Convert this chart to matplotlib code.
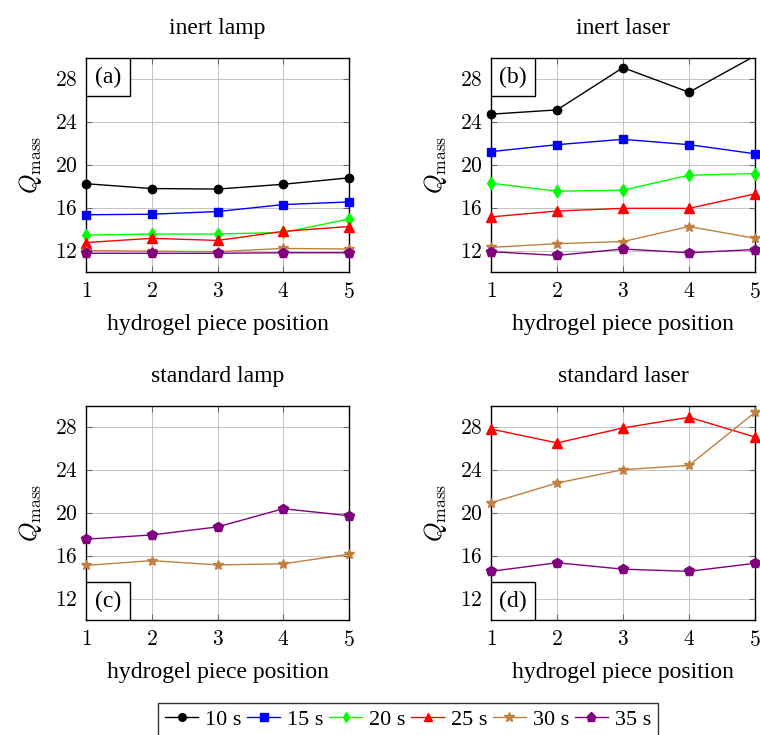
import numpy as np
import matplotlib
matplotlib.use("Agg")
import matplotlib.pyplot as plt
from matplotlib.patches import Rectangle
from matplotlib.ticker import FuncFormatter

plt.rcParams["font.family"] = ["Liberation Serif", "DejaVu Serif"]
plt.rcParams["mathtext.fontset"] = "cm"

# -----------------------------
# data
# -----------------------------
positions = [1, 2, 3, 4, 5]
times = ["10 s", "15 s", "20 s", "25 s", "30 s", "35 s"]

# (a) inert lamp
a_10 = [18.25, 17.8, 17.75, 18.2, 18.8]
a_15 = [15.35, 15.4, 15.65, 16.3, 16.55]
a_20 = [13.45, 13.55, 13.55, 13.7, 14.95]
a_25 = [12.75, 13.15, 12.95, 13.8, 14.25]
a_30 = [12.0, 11.95, 11.9, 12.2, 12.15]
a_35 = [11.75, 11.75, 11.75, 11.8, 11.8]

# (b) inert laser
b_10 = [24.75, 25.15, 29.1, 26.8, 30.2]
b_15 = [21.25, 21.9, 22.4, 21.9, 21.05]
b_20 = [18.3, 17.55, 17.65, 19.05, 19.2]
b_25 = [15.15, 15.7, 15.95, 15.95, 17.3]
b_30 = [12.3, 12.65, 12.85, 14.25, 13.15]
b_35 = [11.9, 11.55, 12.15, 11.8, 12.1]

# (c) standard lamp
c_30 = [15.1, 15.55, 15.15, 15.25, 16.15]
c_35 = [17.55, 17.95, 18.7, 20.4, 19.75]

# (d) standard laser
d_25 = [27.85, 26.55, 27.95, 28.95, 27.1]
d_30 = [20.95, 22.8, 24.05, 24.45, 29.4]
d_35 = [14.55, 15.35, 14.75, 14.55, 15.3]

panels = [
    ("inert lamp", "(a)", "upper", {0: a_10, 1: a_15, 2: a_20, 3: a_25, 4: a_30, 5: a_35}),
    ("inert laser", "(b)", "upper", {0: b_10, 1: b_15, 2: b_20, 3: b_25, 4: b_30, 5: b_35}),
    ("standard lamp", "(c)", "lower", {4: c_30, 5: c_35}),
    ("standard laser", "(d)", "lower", {3: d_25, 4: d_30, 5: d_35}),
]

YMIN, YMAX = 10, 30

# -----------------------------
# styles
# -----------------------------
colors = ["black", "#0000ff", "#00ff00", "#ff0000", "#bf8040", "#800080"]
markers = ["o", "s", "d", "^", "*", "p"]
msizes = [6, 6, 6, 6.5, 7.5, 7]

W, H = 760, 735
fig = plt.figure(figsize=(W / 100, H / 100), dpi=100)

boxes = [(86, 58, 349, 272), (491, 58, 755, 272),
         (86, 406, 349, 620), (491, 406, 755, 620)]

math_fmt = FuncFormatter(lambda v, p: r"$%d$" % v)

for (title, tag, where, series), (l, t, r, b) in zip(panels, boxes):
    ax = fig.add_axes([l / W, 1 - b / H, (r - l) / W, (b - t) / H])
    for i, ys in series.items():
        ys = np.array(ys)
        ax.plot(positions, ys, color=colors[i], lw=1.0, clip_on=True, zorder=3)
        inside = (ys >= YMIN) & (ys <= YMAX)
        ax.plot(np.array(positions)[inside], ys[inside], ls="none",
                color=colors[i], marker=markers[i], markersize=msizes[i],
                clip_on=False, zorder=4)
    ax.set_xlim(1, 5)
    ax.set_ylim(YMIN, YMAX)
    ax.set_xticks(positions)
    ax.set_yticks([12, 16, 20, 24, 28])
    ax.xaxis.set_major_formatter(math_fmt)
    ax.yaxis.set_major_formatter(math_fmt)
    ax.grid(True, color="#c4c4c4", lw=0.7)
    ax.set_axisbelow(True)
    ax.tick_params(direction="in", top=True, right=True, length=4, width=0.8,
                   color="#666666", labelsize=15.5)
    ax.tick_params(axis="x", pad=8)
    ax.tick_params(axis="y", pad=6)
    for s in ax.spines.values():
        s.set_linewidth(1.0)
    ax.set_title(title, fontsize=17, pad=17)
    ax.set_xlabel("hydrogel piece position", fontsize=17, labelpad=8)
    ax.set_ylabel(r"$Q_{\mathrm{mass}}$", fontsize=18, labelpad=8)

    # panel tag in a box touching the corner
    bw, bh = 44 / (r - l), 38 / (b - t)
    by = 1 - bh if where == "upper" else 0
    ax.add_patch(Rectangle((0, by), bw, bh, transform=ax.transAxes,
                           fc="white", ec="black", lw=1.0, zorder=6))
    ax.text(bw / 2, by + bh / 2, tag, transform=ax.transAxes, fontsize=17,
            ha="center", va="center", zorder=7)

handles = []
for i in range(6):
    h, = plt.plot([], [], color=colors[i], marker=markers[i],
                  markersize=msizes[i] - 0.5, lw=1.0)
    handles.append(h)

leg = fig.legend(handles, times, ncol=6, loc="upper center",
                 bbox_to_anchor=(408 / W, 1 - 703 / H), borderaxespad=0,
                 fontsize=16, frameon=True, fancybox=False, edgecolor="black",
                 handlelength=1.5, handletextpad=0.3, columnspacing=0.25,
                 borderpad=0.3)
leg.get_frame().set_linewidth(1.0)

fig.savefig("out.png", dpi=100)
